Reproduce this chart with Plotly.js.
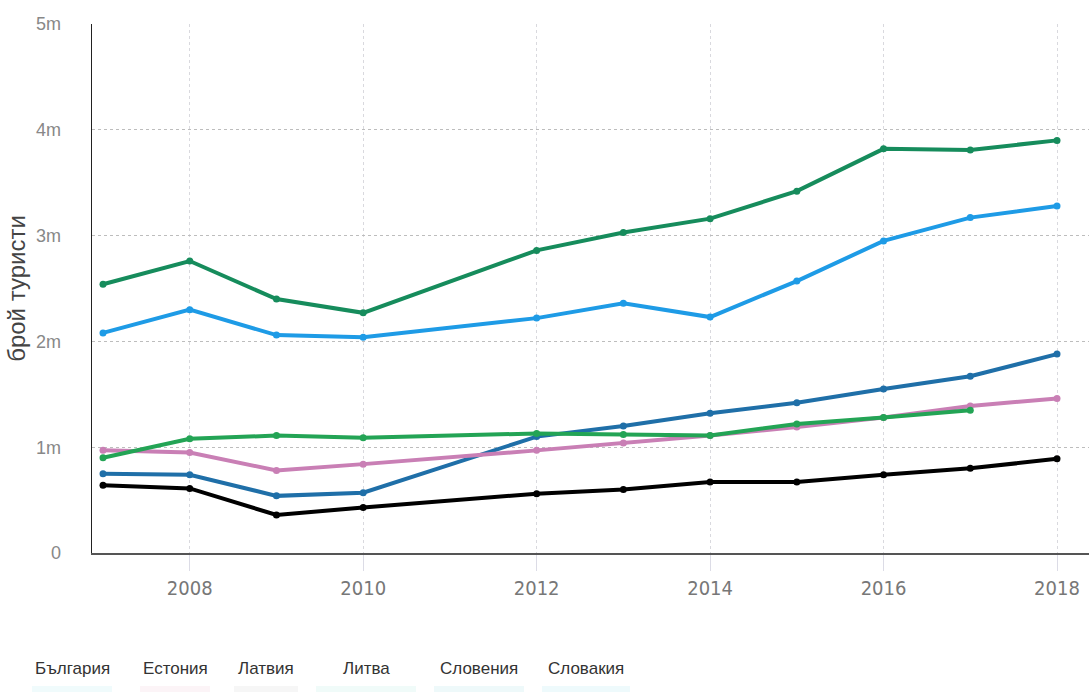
<!DOCTYPE html>
<html>
<head>
<meta charset="utf-8">
<script src="https://cdn.plot.ly/plotly-3.0.1.min.js"></script>
<style>
  html, body { margin: 0; padding: 0; background: #fff; }
  #chart { width: 1089px; height: 692px; }
</style>
</head>
<body>
<div id="chart"></div>
<script>
// ---- data ----
const years = [2007, 2008, 2009, 2010, 2012, 2013, 2014, 2015, 2016, 2017, 2018];
const countries = ["България", "Естония", "Латвия", "Литва", "Словения", "Словакия"];
const bulgaria = [2.08, 2.30, 2.06, 2.04, 2.22, 2.36, 2.23, 2.57, 2.95, 3.17, 3.28];
const estonia  = [0.97, 0.95, 0.78, 0.84, 0.97, 1.04, 1.11, 1.19, 1.28, 1.39, 1.46];
const latvia   = [0.64, 0.61, 0.36, 0.43, 0.56, 0.60, 0.67, 0.67, 0.74, 0.80, 0.89];
const lithuania = [0.90, 1.08, 1.11, 1.09, 1.13, 1.12, 1.11, 1.22, 1.28, 1.35, null];
const slovenia = [2.54, 2.76, 2.40, 2.27, 2.86, 3.03, 3.16, 3.42, 3.82, 3.81, 3.90];
const slovakia = [0.75, 0.74, 0.54, 0.57, 1.10, 1.20, 1.32, 1.42, 1.55, 1.67, 1.88];
const yTickVals = [0, 1, 2, 3, 4, 5];
const yTickText = ["0", "1m", "2m", "3m", "4m", "5m"];
const xTickVals = [2008, 2010, 2012, 2014, 2016, 2018];
const yTitle = "брой туристи";

// ---- styles ----
const seriesValues = [bulgaria, estonia, latvia, lithuania, slovenia, slovakia];
const colors = ["#1e9be6", "#c97fb5", "#000000", "#23a455", "#168c5c", "#1f6fa8"];
const swatchColors = ["#f0fbfc", "#fcf4f7", "#f6f6f6", "#f0fbf9", "#eef9fa", "#eefafc"];
const drawOrder = [4, 0, 5, 1, 3, 2];

const traces = drawOrder.map(i => ({
  x: years,
  y: seriesValues[i],
  name: countries[i],
  type: "scatter",
  mode: "lines+markers",
  connectgaps: false,
  line: { color: colors[i], width: 4 },
  marker: { color: colors[i], size: 7 },
  showlegend: false
}));

// legend drawn as text with faint swatches beneath (as in the reference)
const legendCenters = [72, 175, 266, 366, 479, 586];
const legendWidths = [80, 70, 64, 100, 90, 88];
const plotLeft = 92, plotW = 997, plotBottom = 553, plotH = 529;
const toPX = px => (px - plotLeft) / plotW;
const toPY = py => (plotBottom - py) / plotH;

const annotations = countries.map((c, i) => ({
  text: c, xref: "paper", yref: "paper",
  x: toPX(legendCenters[i]), y: toPY(668),
  xanchor: "center", yanchor: "middle", showarrow: false,
  font: { family: "Liberation Sans, Arial, sans-serif", size: 17, color: "#333" }
}));
const shapes = countries.map((c, i) => ({
  type: "rect", xref: "paper", yref: "paper",
  x0: toPX(legendCenters[i] - legendWidths[i] / 2), x1: toPX(legendCenters[i] + legendWidths[i] / 2),
  y0: toPY(692), y1: toPY(686),
  line: { width: 0 }, fillcolor: swatchColors[i], layer: "below"
}));

const layout = {
  width: 1089, height: 692,
  margin: { l: plotLeft, r: 0, t: 24, b: 692 - plotBottom, pad: 0 },
  paper_bgcolor: "#fff", plot_bgcolor: "#fff",
  showlegend: false,
  xaxis: {
    range: [2006.873, 2018.369],
    tickvals: xTickVals,
    showgrid: true, gridcolor: "#d9d9de", griddash: "dot", gridwidth: 1,
    showline: true, linecolor: "#555", linewidth: 2,
    zeroline: false,
    ticks: "outside", ticklen: 16, tickcolor: "#dcdce6", tickwidth: 1,
    tickfont: { family: "DejaVu Sans Condensed, Liberation Sans Narrow, sans-serif", size: 20, color: "#777" },
    fixedrange: true
  },
  yaxis: {
    range: [0, 5],
    tickvals: yTickVals, ticktext: yTickText,
    showgrid: true, gridcolor: "#bdbdbd", griddash: "dot", gridwidth: 1,
    showline: true, linecolor: "#222", linewidth: 1.5,
    zeroline: false,
    ticks: "outside", ticklen: 26, tickcolor: "rgba(0,0,0,0)",
    tickfont: { family: "Liberation Sans, Arial, sans-serif", size: 18, color: "#888" },
    title: { text: yTitle, standoff: 3, font: { family: "Liberation Sans, Arial, sans-serif", size: 24, color: "#444" } },
    automargin: false,
    fixedrange: true
  },
  annotations: annotations,
  shapes: shapes
};

Plotly.newPlot("chart", traces, layout, { displayModeBar: false, staticPlot: true });
</script>
</body>
</html>
